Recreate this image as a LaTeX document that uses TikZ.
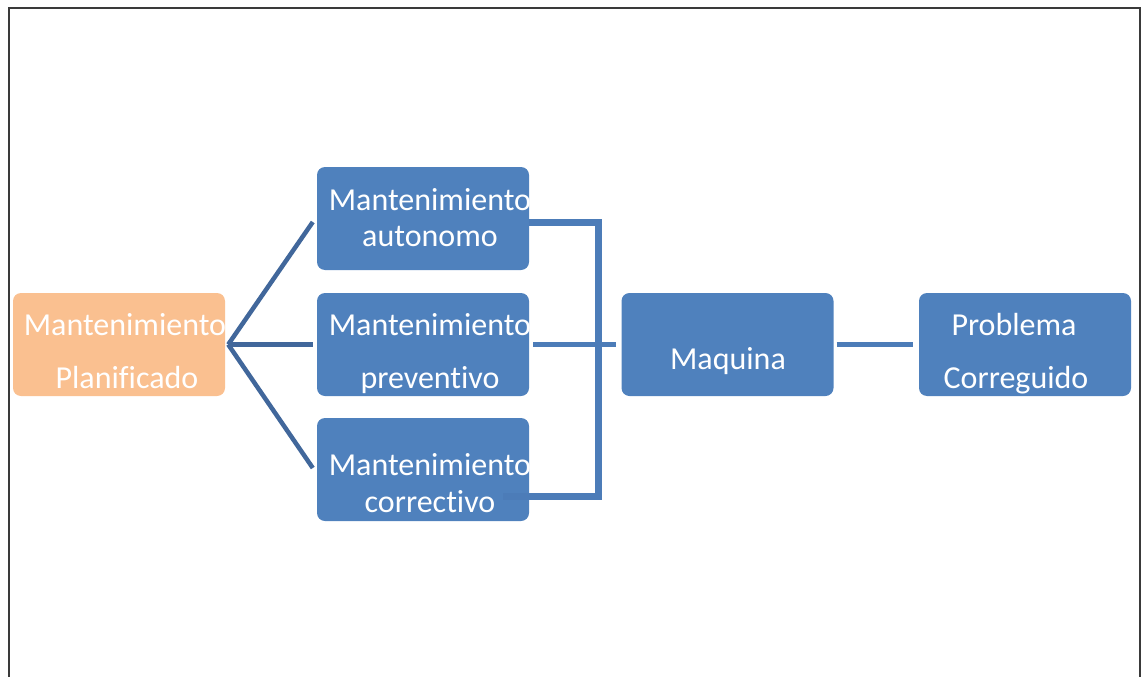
\documentclass[tikz,border=0pt]{standalone}
\usepackage{fontspec}
\setmainfont{Carlito}[Ligatures=NoCommon]
\definecolor{boxblue}{HTML}{4F81BD}
\definecolor{boxorange}{HTML}{FAC090}
\definecolor{fanline}{HTML}{41679B}
\definecolor{barline}{HTML}{4C7CB8}
\definecolor{frameline}{HTML}{3A3A3A}
\begin{document}
\begin{tikzpicture}[x=1pt,y=-1pt,
  card/.style={rounded corners=8pt, minimum width=212pt, minimum height=103pt, inner sep=0pt},
  bluecard/.style={card, fill=boxblue},
  orangecard/.style={card, fill=boxorange},
  lbl/.style={text=white, inner sep=0pt, anchor=base, font=\fontsize{32}{38}\selectfont},
  fan/.style={draw=fanline, line width=4.5pt},
  bar/.style={draw=barline, line width=7pt},
  link/.style={draw=barline, line width=5pt}]
\useasboundingbox (0,0) rectangle (1143,677);
% page frame, open at the bottom
\draw[frameline, line width=2pt] (9,690) -- (9,8) -- (1140,8) -- (1140,690);

% boxes
\node[orangecard] (plan) at (119,344.5) {};
\node[bluecard] (auto) at (423,218.5) {};
\node[bluecard] (prev) at (423,344.5) {};
\node[bluecard] (corr) at (423,469.5) {};
\node[bluecard] (maq) at (727.5,344.5) {};
\node[bluecard] (prob) at (1025,344.5) {};

% fan from the planned-maintenance box
\coordinate (hub) at ([xshift=3pt]plan.east);
\draw[fan] (hub) -- ([shift={(-4,3.5)}]auto.west);
\draw[fan] (hub) -- ([xshift=-4pt]prev.west);
\draw[fan] (hub) -- ([shift={(-4,-1.5)}]corr.west);

% bracket joining autonomo and correctivo
\draw[bar] ([shift={(0,3.5)}]auto.east) -- ++(69,0) |- ([shift={(-26,26.5)}]corr.east);

% straight links
\draw[link] ([xshift=4pt]prev.east) -- ([xshift=-5pt]maq.west);
\draw[link] ([xshift=3pt]maq.east) -- ([xshift=-6pt]prob.west);

% labels
\node[lbl] (plan1) at (125,335) {Mantenimiento};
\node[lbl] (plan2) at (127,388) {Planificado};
\node[lbl] (auto1) at (430,210) {Mantenimiento};
\node[lbl] (auto2) at (430,246) {autonomo};
\node[lbl] (prev1) at (430,335) {Mantenimiento};
\node[lbl] (prev2) at (430,388) {preventivo};
\node[lbl] (corr1) at (430,475) {Mantenimiento};
\node[lbl] (corr2) at (430,512) {correctivo};
\node[lbl] (maq1) at (728,369) {Maquina};
\node[lbl] (prob1) at (1014,335) {Problema};
\node[lbl] (prob2) at (1016,388) {Correguido};
\end{tikzpicture}
\end{document}
